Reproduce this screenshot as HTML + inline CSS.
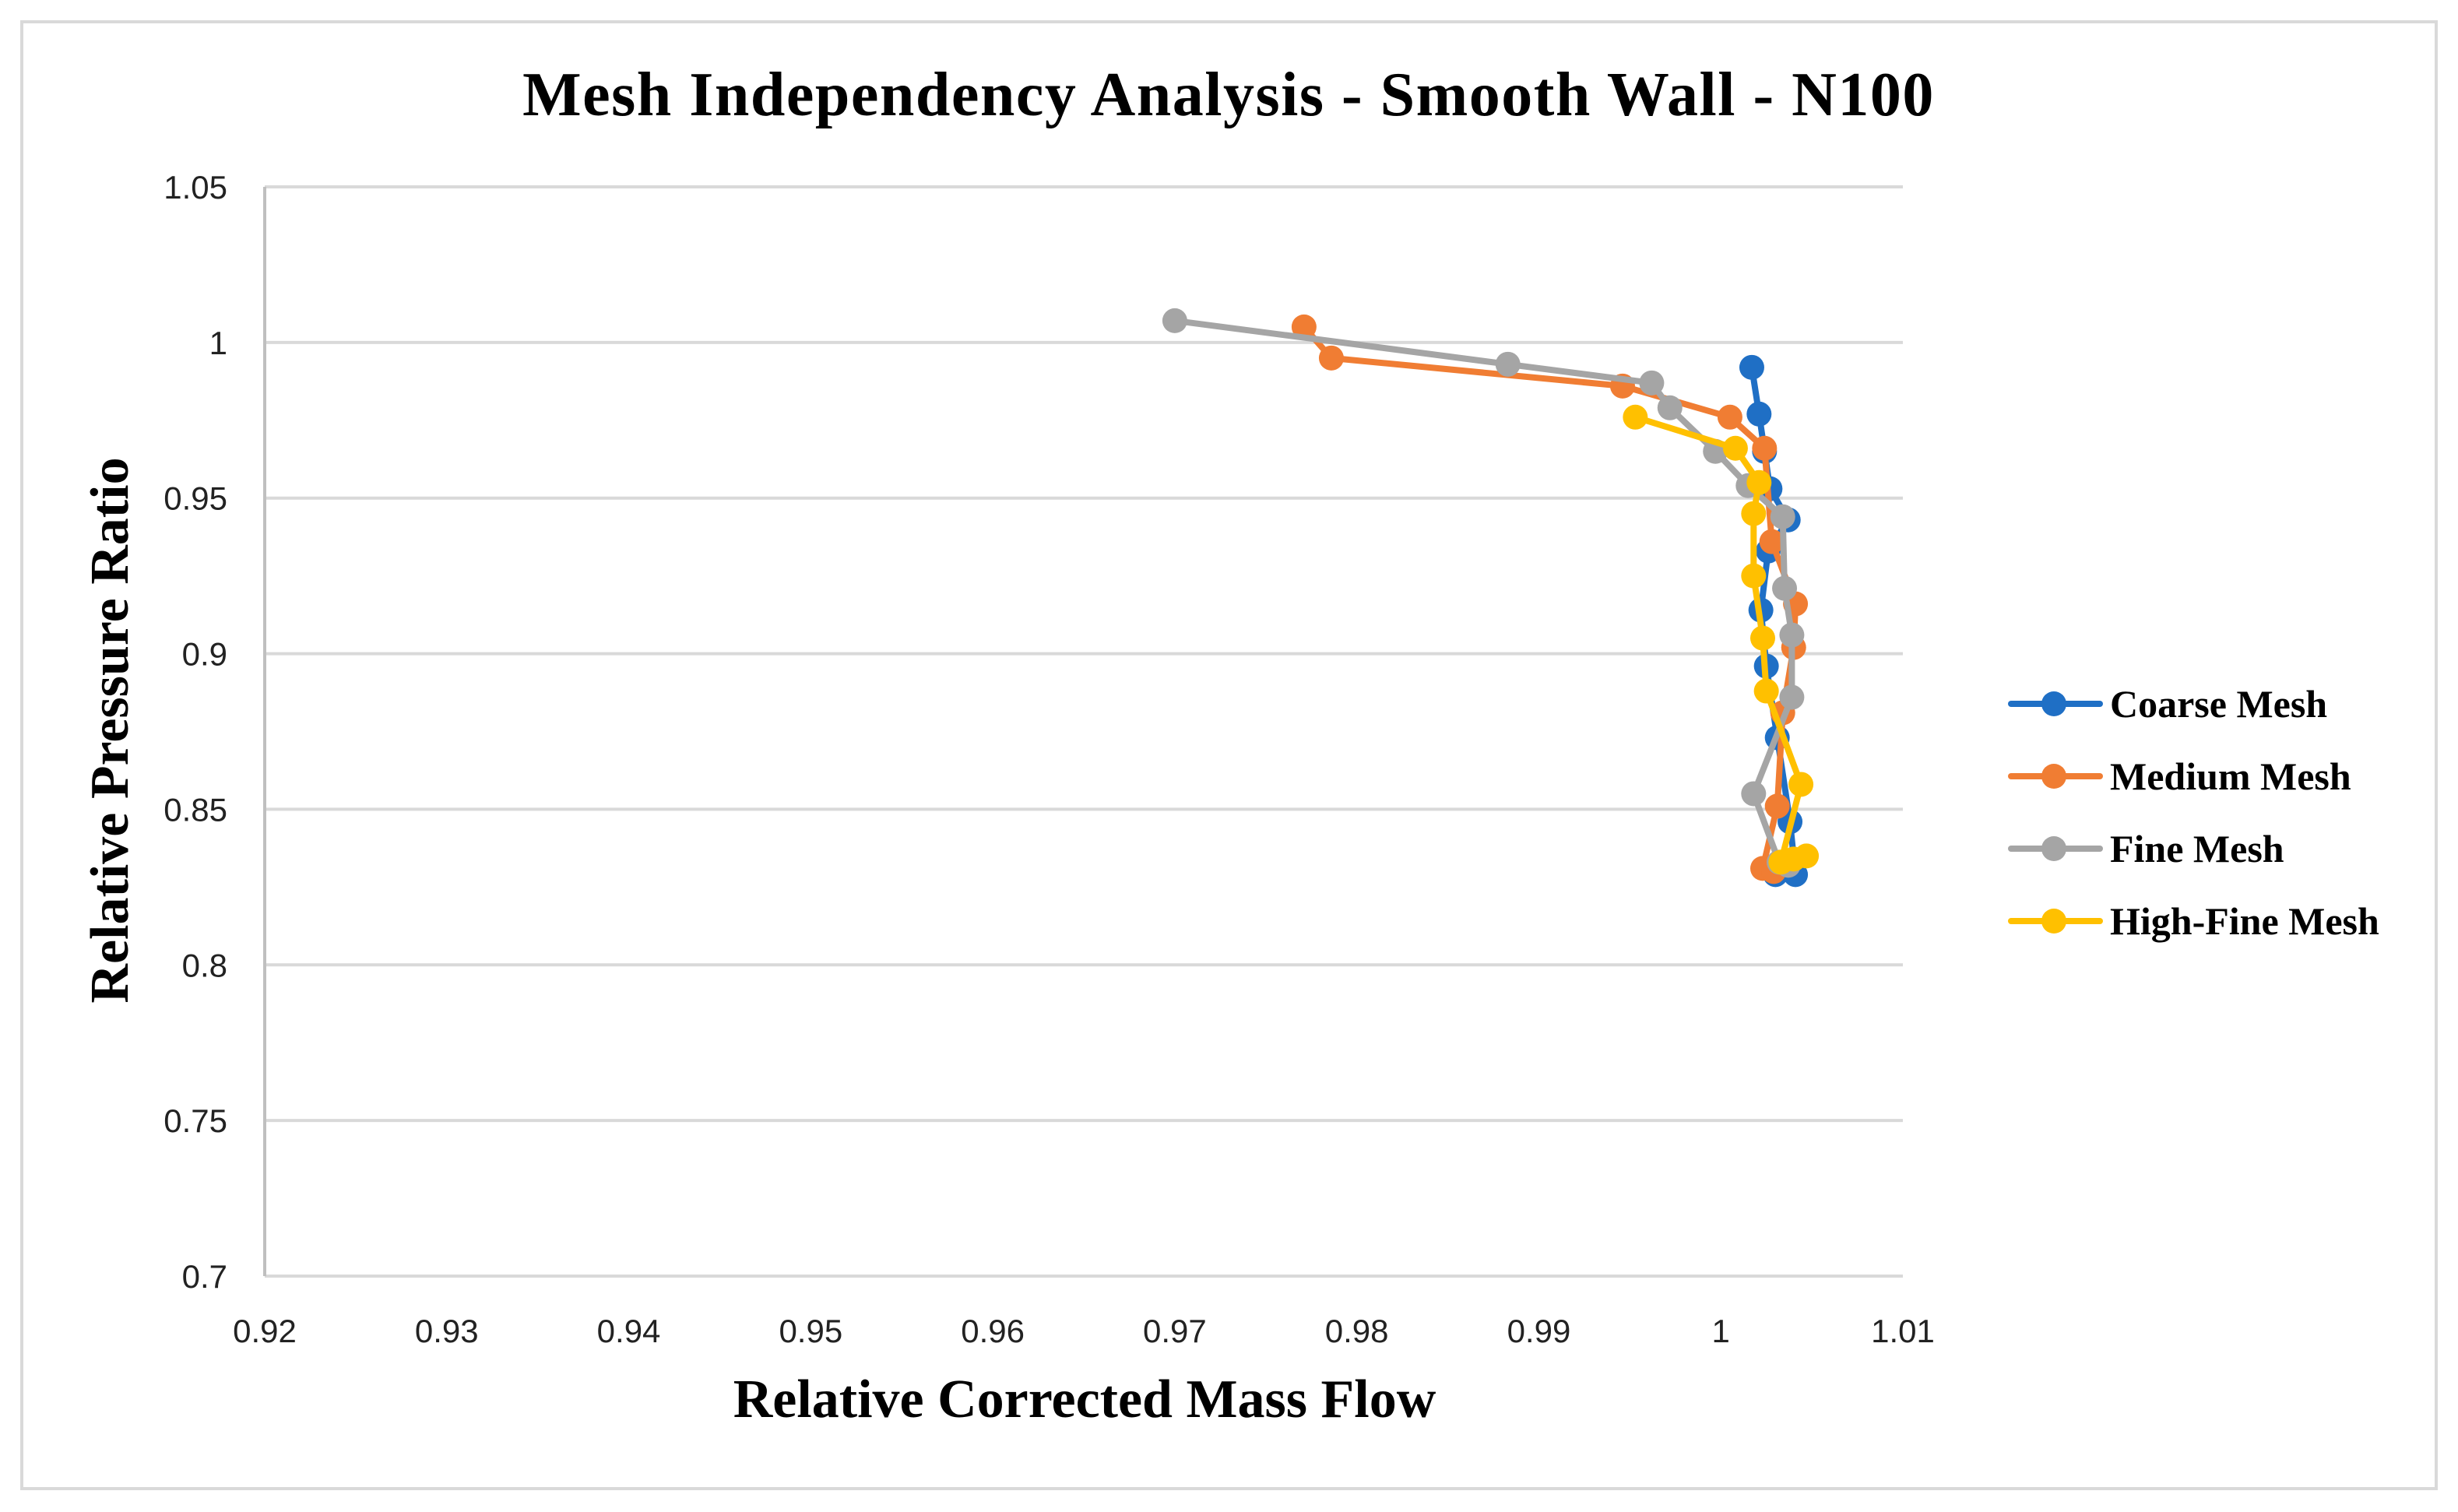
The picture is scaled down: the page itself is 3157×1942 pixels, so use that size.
<!DOCTYPE html>
<html><head><meta charset="utf-8"><style>
html,body{margin:0;padding:0;background:#fff;}
svg{display:block;}
</style></head><body>
<svg id="chart" width="3157" height="1942" viewBox="0 0 3157 1942" xmlns="http://www.w3.org/2000/svg">
<rect x="28" y="28" width="3101" height="1884" fill="#fff" stroke="#d9d9d9" stroke-width="4"/>
<text x="1578" y="148" text-anchor="middle" font-family="Liberation Serif, serif" font-weight="bold" font-size="80" letter-spacing="1.5">Mesh Independency Analysis - Smooth Wall - N100</text>
<g id="grid"></g>
<g id="axes"></g>
<g id="series"></g>
<text x="1393" y="1820" text-anchor="middle" font-family="Liberation Serif, serif" font-weight="bold" font-size="70">Relative Corrected Mass Flow</text>
<text x="0" y="0" transform="translate(164,938) rotate(-90)" text-anchor="middle" font-family="Liberation Serif, serif" font-weight="bold" font-size="70">Relative Pressure Ratio</text>
<g id="legend"></g>
</svg>
<script>
const xTicks=[0.92,0.93,0.94,0.95,0.96,0.97,0.98,0.99,1,1.01];
const yTicks=[0.7,0.75,0.8,0.85,0.9,0.95,1,1.05];
const seriesNames=["Coarse Mesh","Medium Mesh","Fine Mesh","High-Fine Mesh"];
const coarseX=[1.0017,1.0021,1.0024,1.0027,1.0037,1.0026,1.0022,1.0025,1.0031,1.0038,1.0041,1.0030];
const coarseY=[0.992,0.977,0.965,0.953,0.943,0.933,0.914,0.896,0.873,0.846,0.829,0.829];
const mediumX=[0.9771,0.9786,0.9946,1.0005,1.0024,1.0028,1.0041,1.0040,1.0034,1.0031,1.0023,1.0029];
const mediumY=[1.005,0.995,0.986,0.976,0.966,0.936,0.916,0.902,0.881,0.851,0.831,0.830];
const fineX=[0.9700,0.9883,0.9962,0.9972,0.9997,1.0015,1.0034,1.0035,1.0039,1.0039,1.0018,1.0032,1.0037];
const fineY=[1.007,0.993,0.987,0.979,0.965,0.954,0.944,0.921,0.906,0.886,0.855,0.833,0.832];
const highX=[0.9953,1.0008,1.0021,1.0018,1.0018,1.0023,1.0025,1.0044,1.0033,1.0040,1.0047];
const highY=[0.976,0.966,0.955,0.945,0.925,0.905,0.888,0.858,0.833,0.834,0.835];

const NS="http://www.w3.org/2000/svg";
const X0=340,X1=2444,Y0=1639,Y1=240;
const xMin=0.92,xMax=1.01,yMin=0.7,yMax=1.05;
function sx(v){return X0+(v-xMin)/(xMax-xMin)*(X1-X0);}
function sy(v){return Y0-(v-yMin)/(yMax-yMin)*(Y0-Y1);}
function mk(tag,attrs,parent){const e=document.createElementNS(NS,tag);for(const k in attrs)e.setAttribute(k,attrs[k]);parent.appendChild(e);return e;}
const grid=document.getElementById('grid'),axes=document.getElementById('axes'),ser=document.getElementById('series'),leg=document.getElementById('legend');
yTicks.forEach(t=>{
  const l=mk('line',{x1:X0,x2:X1,y1:sy(t),y2:sy(t),stroke:'#d9d9d9','stroke-width':4},grid);
  
  
  const tx=mk('text',{x:X0-48,y:sy(t)+15,'text-anchor':'end','font-family':'Liberation Sans, sans-serif','font-size':42,fill:'#222'},axes);
  tx.textContent=String(t);
  
  
});
const ya=mk('line',{x1:X0,x2:X0,y1:Y1,y2:Y0,stroke:'#bfbfbf','stroke-width':4},axes);


xTicks.forEach(t=>{
  const tx=mk('text',{x:sx(t),y:1724,'text-anchor':'middle','font-family':'Liberation Sans, sans-serif','font-size':42,fill:'#222'},axes);
  tx.textContent=String(t);
  
  
});
const colors=['#1f6fc5','#f07d33','#a5a5a5','#ffc000'];
const data=[[coarseX,coarseY],[mediumX,mediumY],[fineX,fineY],[highX,highY]];
data.forEach((d,i)=>{
  const g=mk('g',{},ser);
  
  
  const pts=d[0].map((x,j)=>sx(x)+','+sy(d[1][j])).join(' ');
  const pl=mk('polyline',{points:pts,fill:'none',stroke:colors[i],'stroke-width':8,'stroke-linejoin':'round'},g);
  
  
  d[0].forEach((x,j)=>{
    const c=mk('circle',{cx:sx(x),cy:sy(d[1][j]),r:16,fill:colors[i]},g);
    
    
  });
  const ly=904+i*93;
  const lg=mk('g',{},leg);
  
  
  mk('line',{x1:2583,x2:2697,y1:ly,y2:ly,stroke:colors[i],'stroke-width':8,'stroke-linecap':'round'},lg);
  mk('circle',{cx:2638,cy:ly,r:16,fill:colors[i]},lg);
  const lt=mk('text',{x:2710,y:ly+17,'font-family':'Liberation Serif, serif','font-weight':'bold','font-size':50},lg);
  lt.textContent=seriesNames[i];
});
</script>
</body></html>
